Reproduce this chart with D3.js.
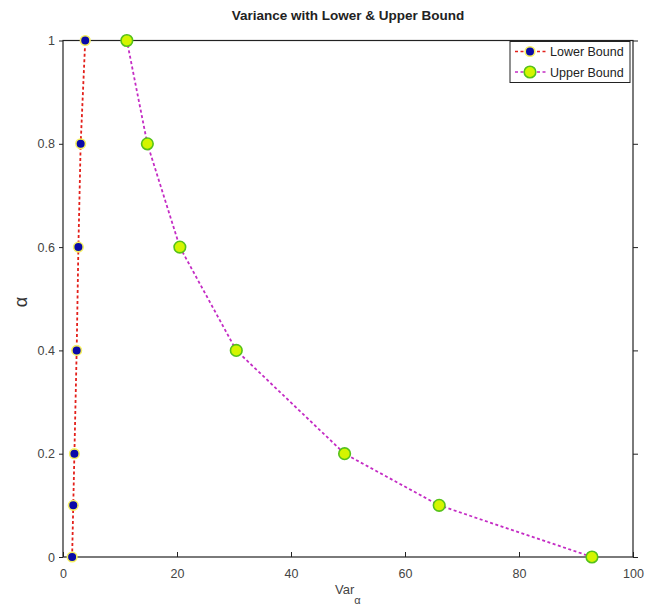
<!DOCTYPE html>
<html>
<head>
<meta charset="utf-8">
<script src="https://d3js.org/d3.v7.min.js"></script>
<style>
    body { margin: 0; background: #fff; }
    text { font-family: "Liberation Sans", Arial, sans-serif; }
</style>
</head>
<body>
<svg id="chart" width="647" height="610"></svg>
<script>
    // values
    var alphas = [0, 0.1, 0.2, 0.4, 0.6, 0.8, 1];
    var lowerVar = [1.6, 1.8, 2.0, 2.4, 2.7, 3.1, 3.9];
    var upperVar = [92.8, 66.0, 49.4, 30.4, 20.5, 14.8, 11.2];
    var xTicks = [0, 20, 40, 60, 80, 100];
    var yTicks = [0, 0.2, 0.4, 0.6, 0.8, 1];
    var seriesNames = ["Lower Bound", "Upper Bound"];

    var svg = d3.select("#chart");
    var plotL = 63, plotR = 633, plotT = 40.5, plotB = 557;

    var x = d3.scaleLinear().domain([0, 100]).range([plotL, plotR]);
    var y = d3.scaleLinear().domain([0, 1]).range([plotB, plotT]);

    // frame
    svg.append("rect")
        .attr("x", plotL)
        .attr("y", plotT)
        .attr("width", plotR - plotL)
        .attr("height", plotB - plotT)
        .attr("fill", "none")
        .attr("stroke", "#222")
        .attr("stroke-width", 1.2);

    var xAxis = svg.append("g")
        .attr("transform", "translate(0," + plotB + ")")
        .call(d3.axisBottom(x).tickValues(xTicks).tickFormat(d3.format("d")).tickSizeInner(-5).tickSizeOuter(0));
    xAxis.select(".domain").remove();
    xAxis.selectAll("line").attr("stroke", "#222");
    xAxis.selectAll("text").attr("y", 12).attr("fill", "#444").style("font-size", "12.5px");

    var yAxis = svg.append("g")
        .attr("transform", "translate(" + plotL + ",0)")
        .call(d3.axisLeft(y).tickValues(yTicks).tickFormat(function (d) { return d3.format("")(+d.toFixed(1)); }).tickSizeInner(4).tickSizeOuter(0));
    yAxis.select(".domain").remove();
    yAxis.selectAll("line").attr("stroke", "#222");
    yAxis.selectAll("text").attr("x", -8).attr("fill", "#444").style("font-size", "12.5px");

    var yRight = svg.append("g")
        .attr("transform", "translate(" + plotR + ",0)")
        .call(d3.axisLeft(y).tickValues(yTicks).tickFormat("").tickSizeInner(-5).tickSizeOuter(0));
    yRight.select(".domain").remove();
    yRight.selectAll("line").attr("stroke", "#222");

    // title and labels
    svg.append("text")
        .attr("x", (plotL + plotR) / 2)
        .attr("y", 20)
        .attr("text-anchor", "middle")
        .style("font-size", "13.5px")
        .style("font-weight", "bold")
        .attr("fill", "#222")
        .text("Variance with Lower & Upper Bound");

    var xl = svg.append("text")
        .attr("x", 335)
        .attr("y", 594)
        .attr("fill", "#444")
        .style("font-size", "13px");
    xl.append("tspan").text("Var");
    xl.append("tspan").attr("dy", 10).style("font-size", "11px").text("α");

    svg.append("text")
        .attr("transform", "translate(27,302) rotate(-90)")
        .attr("text-anchor", "middle")
        .attr("fill", "#333")
        .style("font-size", "18px")
        .text("α");

    var series = [
        { name: seriesNames[0], values: lowerVar, line: "#e3201b", fill: "#0a0aa8", ring: "#f5f060", r: 4.8 },
        { name: seriesNames[1], values: upperVar, line: "#c42cc4", fill: "#d4f500", ring: "#55c21a", r: 5.8 }
    ];

    var line = d3.line()
        .x(function (d) { return x(d[0]); })
        .y(function (d) { return y(d[1]); });

    series.forEach(function (s) {
        var pts = s.values.map(function (v, i) { return [v, alphas[i]]; });
        svg.append("path")
            .datum(pts)
            .attr("d", line)
            .attr("fill", "none")
            .attr("stroke", s.line)
            .attr("stroke-width", 1.8)
            .attr("stroke-dasharray", "3,2.5");
        svg.selectAll(null)
            .data(pts)
            .enter()
            .append("circle")
            .attr("cx", function (d) { return x(d[0]); })
            .attr("cy", function (d) { return y(d[1]); })
            .attr("r", s.r)
            .attr("fill", s.fill)
            .attr("stroke", s.ring)
            .attr("stroke-width", 1.6);
    });

    // legend
    var lg = svg.append("g");
    lg.append("rect")
        .attr("x", 510)
        .attr("y", 41.5)
        .attr("width", 120)
        .attr("height", 41)
        .attr("fill", "#fff")
        .attr("stroke", "#222")
        .attr("stroke-width", 1);
    series.forEach(function (s, i) {
        var ly = 51.5 + i * 20.5;
        lg.append("line")
            .attr("x1", 515).attr("x2", 546)
            .attr("y1", ly).attr("y2", ly)
            .attr("stroke", s.line)
            .attr("stroke-width", 1.6)
            .attr("stroke-dasharray", "3,2.5");
        lg.append("circle")
            .attr("cx", 530).attr("cy", ly)
            .attr("r", s.r)
            .attr("fill", s.fill)
            .attr("stroke", s.ring)
            .attr("stroke-width", 1.6);
        lg.append("text")
            .attr("x", 550).attr("y", ly + 4.5)
            .attr("fill", "#222")
            .style("font-size", "12.5px")
            .text(s.name);
    });
</script>
</body>
</html>
